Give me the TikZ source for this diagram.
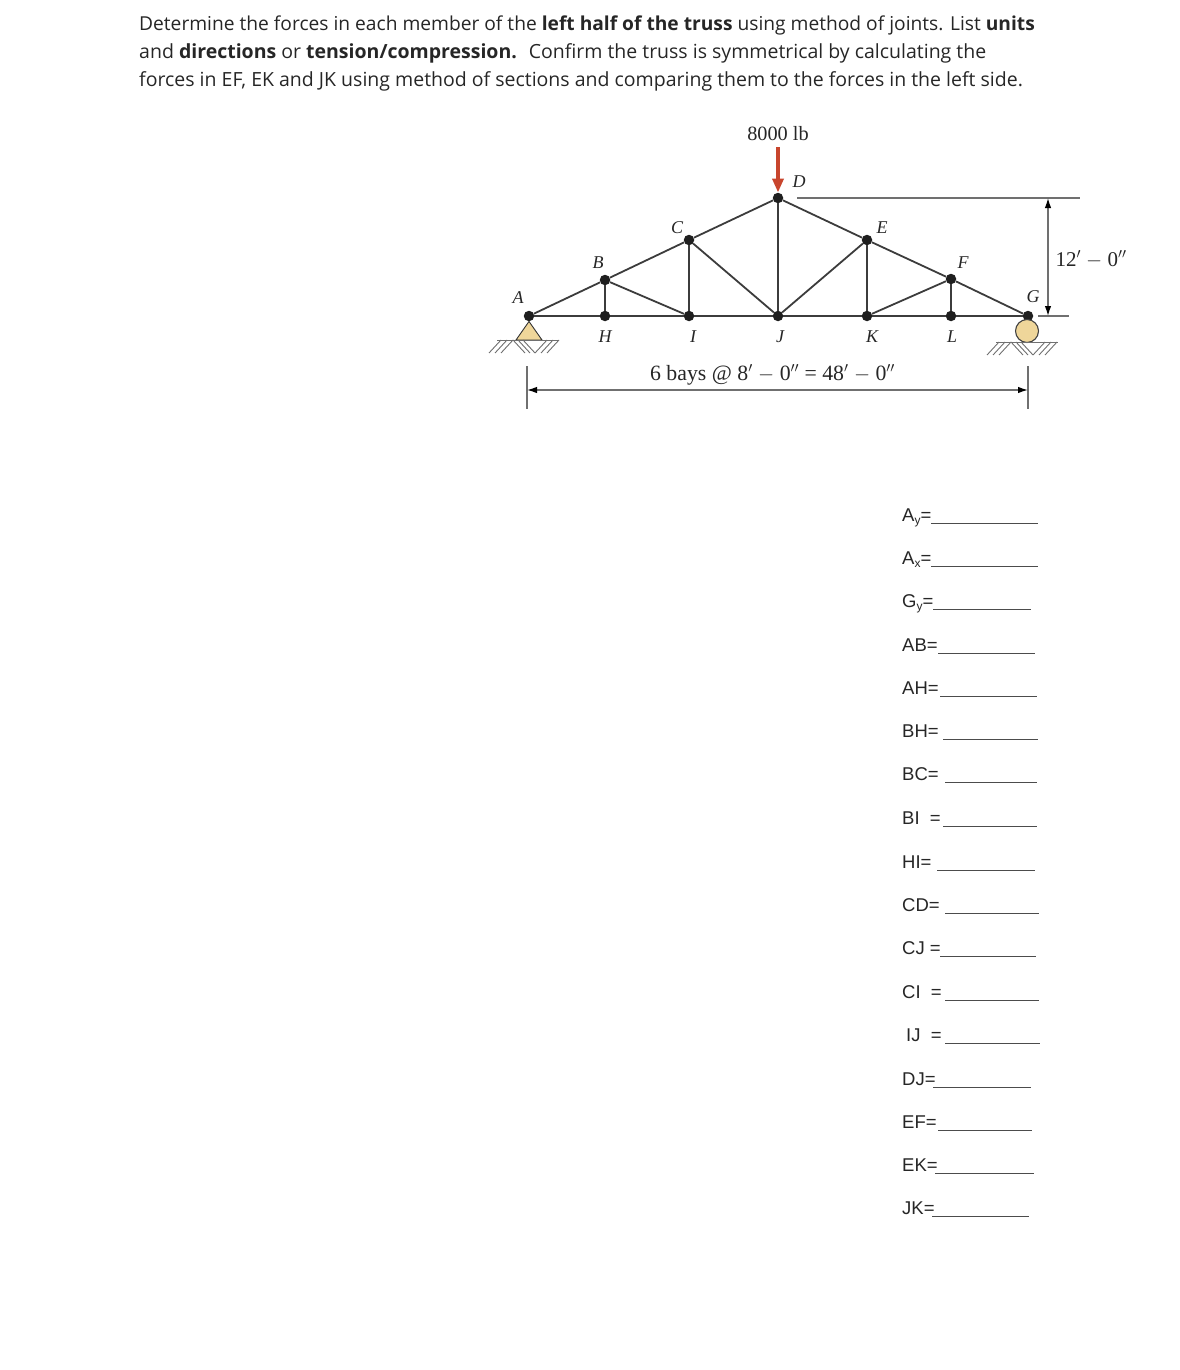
\documentclass[tikz,border=0pt]{standalone}
\usepackage{fontspec}
\setmainfont{Liberation Sans}
\newfontfamily\headfont{Open Sans}
\newfontfamily\trussfont{Liberation Serif}
\usetikzlibrary{arrows.meta}
\definecolor{ink}{HTML}{262626}
\definecolor{member}{HTML}{3C3C3C}
\definecolor{dimline}{HTML}{707070}
\definecolor{tan}{HTML}{EFD69A}
\definecolor{loadred}{HTML}{C8452D}
\tikzset{
  joint/.style={circle,fill=black!88,inner sep=0pt,minimum size=10.5pt},
  mem/.style={draw=member,line width=1.8pt},
  dimen/.style={draw=dimline,line width=1.3pt},
  dimarrow/.style={dimen,{Latex[length=10pt,width=6.5pt,black]}-{Latex[length=10pt,width=6.5pt,black]}},
  hatch/.style={draw=dimline,line width=.9pt},
  head/.style={anchor=base west,inner sep=0pt,text=ink,font=\headfont\fontsize{19.5}{22}\selectfont},
  tlabel/.style={inner sep=0pt,text=ink,font=\trussfont\itshape\fontsize{18}{20}\selectfont},
  tdim/.style={inner sep=0pt,text=ink,anchor=base,font=\trussfont\fontsize{20.3}{24}\selectfont},
  flabel/.style={anchor=base west,inner sep=0pt,text=ink,font=\fontsize{18.5}{22}\selectfont},
  fline/.style={draw=black!70,line width=1pt},
}
\newcommand{\sbs}[1]{\raisebox{-3pt}{\fontsize{12}{12}\selectfont #1}}
\begin{document}
\begin{tikzpicture}[x=1pt,y=-1pt]
\useasboundingbox (0,0) rectangle (1179,1370);
% heading
\node[head,font=\headfont\fontsize{19.2}{22}\selectfont] (h1) at (139,31) {Determine the forces in each member of the \textbf{left half of the truss} using method of joints. List \textbf{units}};
\node[head] (h2) at (139,59) {and \textbf{directions} or \textbf{tension/compression.} \ Confirm the truss is symmetrical by calculating the};
\node[head] (h3) at (139,87) {forces in EF, EK and JK using method of sections and comparing them to the forces in the left side.};
% joints
\foreach \n/\x/\y in {A/529/316,B/605/280,C/689/240,D/778/198,E/867/240,F/951/279,G/1028/316,H/605/316,I/689/316,J/778/316,K/867/316,L/951/316}
  \node[joint] (\n) at (\x,\y) {};
% members
\foreach \a/\b in {A/B,B/C,C/D,D/E,E/F,F/G,A/H,H/I,I/J,J/K,K/L,L/G,B/H,C/I,D/J,E/K,F/L,B/I,C/J,E/J,F/K}
  \draw[mem] (\a) -- (\b);
% load
\coordinate (loadtop) at (778,147);
\draw[draw=loadred,line width=3.6pt,-{Triangle[length=14pt,width=11pt,fill=loadred]}] (loadtop) -- (D.north);
\node[tdim] (loadlabel) at (778,140) {8000 lb};
% supports
\draw[draw=black!80,line width=.9pt,fill=tan] (A.south) -- (516,340) -- (542,340) -- cycle;
\draw[draw=black!75,fill=tan,line width=1.1pt] (1027,331) circle (11.5);
\foreach \c/\g/\l/\r in {529/340/497/559,1027/342/996/1058}{
  \draw[hatch] (\l,\g) -- (\r,\g);
  \foreach \d in {-28,-22,-16,18,24,30}
    \draw[hatch] (\c+\d,\g) -- (\c+\d-12,\g+13);
  \foreach \d in {-16,-11,-6}
    \draw[hatch] (\c+\d,\g) -- (\c+\d+12,\g+13);
}
% labels
\foreach \t/\x/\y in {A/518/298,B/598/263,C/677/228,D/799/182,E/882/228,F/963/263,G/1033/297,H/605/337,I/693/337,J/780/337,K/872/337,L/952/337}
  \node[tlabel] (lab\t) at (\x,\y) {\t};
% dimensions
\coordinate (wl1) at (527,366); \coordinate (wl2) at (527,409);
\coordinate (wr1) at (1028,366); \coordinate (wr2) at (1028,409);
\coordinate (wa) at (527,390); \coordinate (wb) at (1028,390);
\draw[dimen] (wl1) -- (wl2);
\draw[dimen] (wr1) -- (wr2);
\draw[dimarrow] (wa) -- (wb);
\coordinate (ht1) at (797,198); \coordinate (ht2) at (1080,198);
\coordinate (hb1) at (1038,316); \coordinate (hb2) at (1069,316);
\coordinate (ha) at (1048,198); \coordinate (hb) at (1048,316);
\draw[dimen] (ht1) -- (ht2);
\draw[dimen] (hb1) -- (hb2);
\draw[dimarrow] (ha) -- (hb);
\node[tdim,font=\trussfont\fontsize{21.8}{24}\selectfont] (spanlabel) at (772.5,380) {6 bays @ 8$'$ $-$ 0$''$ = 48$'$ $-$ 0$''$};
\node[tdim,font=\trussfont\fontsize{21}{24}\selectfont] (htlabel) at (1091,266) {12$'$ $-$ 0$''$};
% form
\foreach \t/\x/\y/\a/\b in {
 A\sbs{y}=/902/523/931/1038,
 A\sbs{x}=/902/566/931/1038,
 G\sbs{y}=/902/609/933/1031,
 AB=/902/653/938/1035,
 AH=/902/696/940/1037,
 BH=/902/739/943/1038,
 BC=/902/782/945/1037,
 BI\ \ =/902/826/943/1037,
 HI=/902/870/937/1035,
 CD=/902/913/945/1039,
 CJ\ =/902/956/940/1036,
 CI\ \ =/902/1000/945/1039,
 IJ\ \ =/906/1043/945/1040,
 DJ=/902/1087/933/1031,
 EF=/902/1130/938/1032,
 EK=/902/1173/935/1034,
 JK=/902/1216/932/1029}{
  \node[flabel] at (\x,\y-2) {\t};
  \draw[fline] (\a,\y) -- (\b,\y);
}
\end{tikzpicture}
\end{document}
